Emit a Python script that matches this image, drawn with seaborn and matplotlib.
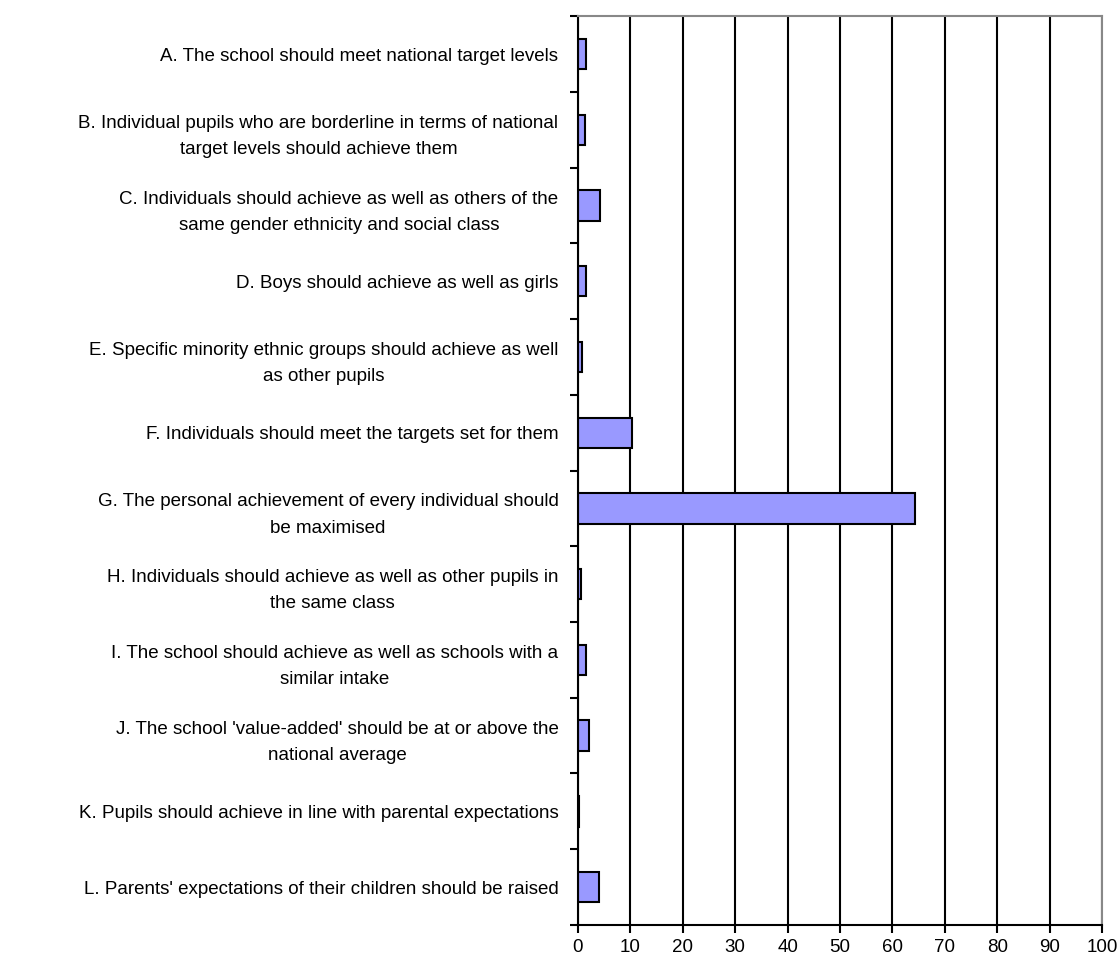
import pandas as pd
import seaborn as sns
import matplotlib.pyplot as plt
from matplotlib.ticker import MultipleLocator, FixedLocator, NullFormatter

categories = [
    "A. The school should meet national target levels",
    "B. Individual pupils who are borderline in terms of national\ntarget levels should achieve them",
    "C. Individuals should achieve as well as others of the\nsame gender ethnicity and social class",
    "D. Boys should achieve as well as girls",
    "E. Specific minority ethnic groups should achieve as well\nas other pupils",
    "F. Individuals should meet the targets set for them",
    "G. The personal achievement of every individual should\nbe maximised",
    "H. Individuals should achieve as well as other pupils in\nthe same class",
    "I. The school should achieve as well as schools with a\nsimilar intake",
    "J. The school 'value-added' should be at or above the\nnational average",
    "K. Pupils should achieve in line with parental expectations",
    "L. Parents' expectations of their children should be raised",
]
values = [1.5, 1.3, 4.2, 1.5, 0.7, 10.3, 64.3, 0.5, 1.5, 2.1, 0.2, 4.1]

data = pd.DataFrame({'Statement': categories, 'Percent': values})

sns.set_style("white")
plt.rcParams['font.family'] = ['Liberation Sans', 'DejaVu Sans']
plt.rcParams['text.color'] = 'black'
plt.rcParams['xtick.color'] = 'black'
plt.rcParams['ytick.color'] = 'black'

fig = plt.figure(figsize=(11.2, 9.63), dpi=100)
ax = fig.add_axes([0.516, 0.0395, 0.468, 0.9437])

sns.barplot(data=data, y='Statement', x='Percent', orient='h', color='#9999ff',
            edgecolor='black', linewidth=1.5, width=0.4, saturation=1, ax=ax)

ax.set_xlim(0, 100)
ax.set_ylim(len(categories) - 0.5, -0.5)
ax.xaxis.set_major_locator(MultipleLocator(10))
ax.set_axisbelow(True)
ax.grid(axis='x', color='black', linewidth=1.5)
ax.grid(axis='y', visible=False)

# ticks between categories on the y axis
ax.yaxis.set_minor_locator(FixedLocator([i - 0.5 for i in range(len(categories) + 1)]))
ax.yaxis.set_minor_formatter(NullFormatter())
ax.tick_params(axis='y', which='major', length=0, pad=14, labelsize=13.5, labelcolor='black')
ax.tick_params(axis='y', which='minor', left=True, length=6, width=1.5, color='black', direction='out')
ax.tick_params(axis='x', bottom=True, length=6, width=1.5, color='black', direction='out',
               labelsize=13.5, labelcolor='black', pad=4)
for lab in ax.get_yticklabels():
    lab.set_multialignment('center')
    lab.set_linespacing(1.7)

ax.spines['left'].set_color('black')
ax.spines['left'].set_linewidth(1.5)
ax.spines['bottom'].set_color('black')
ax.spines['bottom'].set_linewidth(1.5)
ax.spines['top'].set_color('#888888')
ax.spines['top'].set_linewidth(1.5)
ax.spines['right'].set_color('#888888')
ax.spines['right'].set_linewidth(1.5)

ax.set_xlabel('')
ax.set_ylabel('')

plt.savefig('out.png', dpi=100)
